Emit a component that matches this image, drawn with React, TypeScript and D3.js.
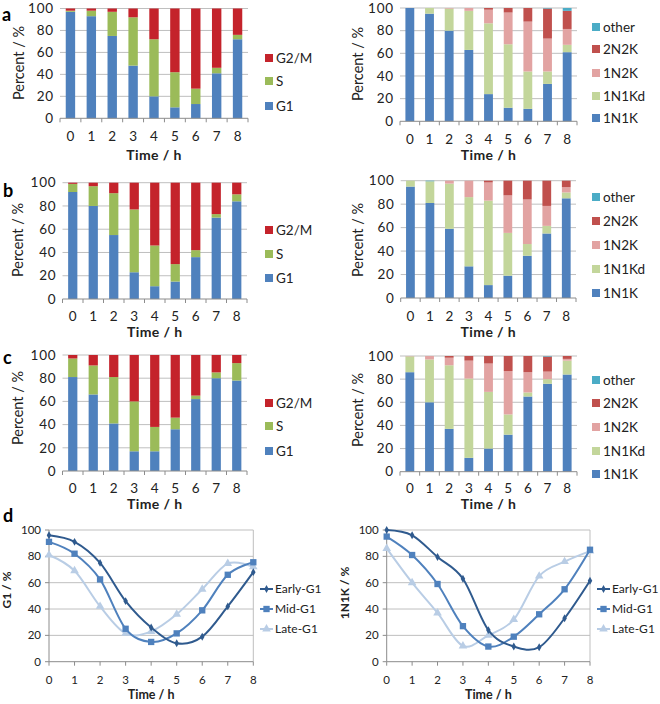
import React from 'react';
import * as d3 from 'd3';

// ---------- data ----------
const times = [0, 1, 2, 3, 4, 5, 6, 7, 8];
const timeLabels = ['0', '1', '2', '3', '4', '5', '6', '7', '8'];
const yTicks = [0, 20, 40, 60, 80, 100];

const phaseNames = ['G1', 'S', 'G2/M'];
const nucNames = ['1N1K', '1N1Kd', '1N2K', '2N2K', 'other'];
const lineNames = ['Early-G1', 'Mid-G1', 'Late-G1'];

// panel a (cell-cycle phases)
const aG1 = [97, 93, 75, 48, 20, 10, 13, 41, 72];
const aS = [1, 5, 22, 44, 52, 32, 14, 5, 4];
const aG2M = [2, 2, 3, 8, 28, 58, 73, 54, 24];
// panel a (nucleus/kinetoplast)
const a1N1K = [100, 95, 80, 63, 24, 12, 11, 33, 61];
const a1N1Kd = [0, 5, 19.5, 34.5, 62.5, 56, 33, 11, 6.5];
const a1N2K = [0, 0, 0.5, 2.5, 12, 28, 44, 29, 14];
const a2N2K = [0, 0, 0, 0, 1.5, 4, 12, 26.5, 16];
const aOther = [0, 0, 0, 0, 0, 0, 0, 0.5, 2.5];

// panel b
const bG1 = [92, 80, 55, 23, 11, 15, 36, 70, 84];
const bS = [7, 17, 36, 54, 35, 15, 6, 3, 6];
const bG2M = [1, 3, 9, 23, 54, 70, 58, 27, 10];
const b1N1K = [95, 81, 59, 27, 11, 19, 36, 55, 85];
const b1N1Kd = [5, 18.5, 38.5, 59, 72, 36.5, 10, 6.5, 5];
const b1N2K = [0, 0, 2.5, 14, 15.5, 32, 38, 17, 4.5];
const b2N2K = [0, 0, 0, 0, 1.5, 12.5, 16, 21.5, 5.5];
const bOther = [0, 0.5, 0, 0, 0, 0, 0, 0, 0];

// panel c
const cG1 = [81, 66, 41, 17, 17, 36, 62, 80, 78];
const cS = [16, 25, 40, 43, 21, 10, 3, 5, 15];
const cG2M = [3, 9, 19, 40, 62, 54, 35, 15, 7];
const c1N1K = [86, 60, 37, 12, 20, 32, 65, 76, 84];
const c1N1Kd = [13.7, 37, 55, 68.5, 49, 17.5, 3.5, 4, 12];
const c1N2K = [0.3, 3, 6.5, 15.5, 24.5, 37.5, 17.5, 6.5, 1.5];
const c2N2K = [0, 0, 1.5, 4, 6.5, 13, 14, 13, 2.5];
const cOther = [0, 0, 0, 0, 0, 0, 0, 0.5, 0];

// panel d (lines)
const dG1Early = [96, 91, 75, 46, 26, 14, 19, 42, 68];
const dG1Mid = [91, 82, 62.5, 25, 15, 21.5, 39, 66, 75.5];
const dG1Late = [81, 69, 42, 21.5, 23, 36, 55, 74.5, 72];
const dKEarly = [100, 96, 79.5, 63, 24, 11.5, 11, 33, 61.5];
const dKMid = [95, 81, 59, 27, 11.5, 19, 36, 55, 85];
const dKLate = [86, 60, 37, 12, 20, 32, 65, 76, 84];

// ---------- styles ----------
const phaseColors = ['#4F81BD', '#9BBB59', '#C4232B'];
const nucColors = ['#4F81BD', '#C3D69B', '#E2A3A2', '#C0504D', '#4BACC6'];
const lineColors = ['#2F5A8E', '#4F81BD', '#B9CDE5'];
const FONT = 'Lato, "Open Sans", sans-serif';
const GRID = '#BFBFBF';
const AXIS = '#8C8C8C';
const TEXT = '#222';

type BarProps = {
  series: number[][];
  names: string[];
  colors: string[];
  x0: number; x1: number; y0: number; y100: number;
  legX: number; legYs: number[];
  tickY: number; titleY: number;
  yTitleX: number; yTitleY: number;
};

function BarPanel(p: BarProps) {
  const x = d3.scaleBand<number>().domain(times).range([p.x0, p.x1]).paddingInner(0.55).paddingOuter(0.275);
  const y = d3.scaleLinear().domain([0, 100]).range([p.y0, p.y100]);
  const table = times.map((t, i) => {
    const o: any = { t };
    p.names.forEach((n, k) => (o[n] = p.series[k][i]));
    return o;
  });
  const stacked = d3.stack<any>().keys(p.names)(table);
  const step = x.step();
  const n = p.names.length;
  return (
    <g>
      {yTicks.filter(t => t > 0).map(t => (
        <line key={t} x1={p.x0} x2={p.x1} y1={y(t)} y2={y(t)} stroke={GRID} strokeWidth={1} />
      ))}
      {stacked.map((layer, k) => (
        <g key={k} fill={p.colors[k]}>
          {layer.map((d, i) => (
            <rect key={i} x={x(times[i])} width={x.bandwidth()} y={y(d[1])} height={Math.max(0, y(d[0]) - y(d[1]))} />
          ))}
        </g>
      ))}
      <line x1={p.x0} x2={p.x1} y1={y(0)} y2={y(0)} stroke={AXIS} strokeWidth={1} />
      {d3.range(times.length + 1).map(i => (
        <line key={i} x1={p.x0 + i * step} x2={p.x0 + i * step} y1={y(0)} y2={y(0) + 4} stroke={AXIS} strokeWidth={1} />
      ))}
      {yTicks.map(t => (
        <text key={t} x={p.x0 - 6} y={y(t)} dy="0.35em" textAnchor="end" fontSize={13.5} letterSpacing={0.8} fill={TEXT}>{t}</text>
      ))}
      {times.map((t, i) => (
        <text key={t} x={(x(t) as number) + x.bandwidth() / 2} y={p.tickY} dy="0.35em" textAnchor="middle" fontSize={13.5} fill={TEXT}>{timeLabels[i]}</text>
      ))}
      <text x={(p.x0 + p.x1) / 2} y={p.titleY} dy="0.35em" textAnchor="middle" fontSize={14} fontWeight="bold" letterSpacing={0.4} fill={TEXT}>Time / h</text>
      <text transform={`translate(${p.yTitleX},${p.yTitleY}) rotate(-90)`} dy="0.35em" textAnchor="middle" fontSize={14.5} fill={TEXT}>Percent / %</text>
      {p.names.map((nm, k) => {
        const ly = p.legYs[n - 1 - k];
        return (
          <g key={nm}>
            <rect x={p.legX} y={ly - 4} width={8} height={8} fill={p.colors[k]} />
            <text x={p.legX + 11} y={ly} dy="0.35em" fontSize={13.5} fill={TEXT}>{nm}</text>
          </g>
        );
      })}
    </g>
  );
}

type LineProps = {
  series: number[][];
  x0: number; x1: number; y0: number; y100: number;
  legX: number; legYs: number[];
  tickY: number; titleY: number;
  yTitle: string; yTitleX: number; yTitleY: number;
};

const symbols = [d3.symbolDiamond, d3.symbolSquare, d3.symbolTriangle];
const symSizes = [18, 40, 32];

function LinePanel(p: LineProps) {
  const x = d3.scaleLinear().domain([0, 8]).range([p.x0, p.x1]);
  const y = d3.scaleLinear().domain([0, 100]).range([p.y0, p.y100]);
  const line = d3.line<number>().x((_, i) => x(times[i])).y(d => y(d)).curve(d3.curveCatmullRom.alpha(0));
  const order = [2, 1, 0];
  return (
    <g>
      {yTicks.filter(t => t > 0).map(t => (
        <line key={t} x1={p.x0} x2={p.x1} y1={y(t)} y2={y(t)} stroke={GRID} strokeWidth={1} />
      ))}
      <line x1={p.x1} x2={p.x1} y1={y(100)} y2={y(0)} stroke={GRID} strokeWidth={1} />
      <line x1={p.x0} x2={p.x0} y1={y(100)} y2={y(0)} stroke={AXIS} strokeWidth={1} />
      <line x1={p.x0} x2={p.x1} y1={y(0)} y2={y(0)} stroke={AXIS} strokeWidth={1} />
      {times.map(t => (
        <line key={t} x1={x(t)} x2={x(t)} y1={y(0)} y2={y(0) + 4} stroke={AXIS} strokeWidth={1} />
      ))}
      {yTicks.map(t => (
        <line key={t} x1={p.x0 - 4} x2={p.x0} y1={y(t)} y2={y(t)} stroke={AXIS} strokeWidth={1} />
      ))}
      {order.map(k => (
        <g key={k}>
          <path d={line(p.series[k]) || ''} fill="none" stroke={lineColors[k]} strokeWidth={2} />
          {p.series[k].map((v, i) => (
            <path key={i} transform={`translate(${x(times[i])},${y(v)})`} d={d3.symbol(symbols[k], symSizes[k])() || ''} fill={lineColors[k]} />
          ))}
        </g>
      ))}
      {yTicks.map(t => (
        <text key={t} x={p.x0 - 8} y={y(t)} dy="0.35em" textAnchor="end" fontSize={11.5} fill={TEXT}>{t}</text>
      ))}
      {times.map((t, i) => (
        <text key={t} x={x(t)} y={p.tickY} dy="0.35em" textAnchor="middle" fontSize={11.5} fill={TEXT}>{timeLabels[i]}</text>
      ))}
      <text x={(p.x0 + p.x1) / 2} y={p.titleY} dy="0.35em" textAnchor="middle" fontSize={12.5} fontWeight="bold" fill={TEXT}>Time / h</text>
      <text transform={`translate(${p.yTitleX},${p.yTitleY}) rotate(-90)`} dy="0.35em" textAnchor="middle" fontSize={12} fontWeight="bold" fill={TEXT}>{p.yTitle}</text>
      {lineNames.map((nm, k) => (
        <g key={nm}>
          <line x1={p.legX} x2={p.legX + 13} y1={p.legYs[k]} y2={p.legYs[k]} stroke={lineColors[k]} strokeWidth={2} />
          <path transform={`translate(${p.legX + 6.5},${p.legYs[k]})`} d={d3.symbol(symbols[k], symSizes[k])() || ''} fill={lineColors[k]} />
          <text x={p.legX + 15} y={p.legYs[k]} dy="0.35em" fontSize={12} fill={TEXT}>{nm}</text>
        </g>
      ))}
    </g>
  );
}

export default function App() {
  return (
    <svg width={660} height={704} viewBox="0 0 660 704" style={{ position: 'absolute', left: 0, top: 0, background: '#fff' }} fontFamily={FONT}>
      <rect x={0} y={0} width={660} height={704} fill="#fff" />
      <BarPanel series={[aG1, aS, aG2M]} names={phaseNames} colors={phaseColors}
        x0={60} x1={248} y0={118.3} y100={8.5} legX={265} legYs={[58, 81, 106]} tickY={136} titleY={155} yTitleX={19} yTitleY={63} />
      <BarPanel series={[a1N1K, a1N1Kd, a1N2K, a2N2K, aOther]} names={nucNames} colors={nucColors}
        x0={400} x1={577} y0={121.3} y100={8} legX={592} legYs={[27, 49, 73, 96, 118]} tickY={139.5} titleY={155.5} yTitleX={358} yTitleY={64} />
      <BarPanel series={[bG1, bS, bG2M]} names={phaseNames} colors={phaseColors}
        x0={62.5} x1={247} y0={299} y100={182.7} legX={265} legYs={[230, 254, 278]} tickY={316} titleY={332} yTitleX={18} yTitleY={240} />
      <BarPanel series={[b1N1K, b1N1Kd, b1N2K, b2N2K, bOther]} names={nucNames} colors={nucColors}
        x0={400.7} x1={576} y0={298} y100={180.7} legX={592} legYs={[197, 221, 245, 269, 293]} tickY={316} titleY={332} yTitleX={358} yTitleY={240} />
      <BarPanel series={[cG1, cS, cG2M]} names={phaseNames} colors={phaseColors}
        x0={62.5} x1={247} y0={471} y100={355} legX={265} legYs={[403, 426, 451]} tickY={488} titleY={504} yTitleX={18} yTitleY={408} />
      <BarPanel series={[c1N1K, c1N1Kd, c1N2K, c2N2K, cOther]} names={nucNames} colors={nucColors}
        x0={400} x1={577} y0={471.7} y100={356} legX={592} legYs={[380, 403, 427, 451, 474]} tickY={488} titleY={504} yTitleX={358} yTitleY={410} />
      <LinePanel series={[dG1Early, dG1Mid, dG1Late]} x0={49} x1={253.3} y0={661.7} y100={530}
        legX={260} legYs={[589, 609, 629]} tickY={680} titleY={695} yTitle="G1 / %" yTitleX={7} yTitleY={590} />
      <LinePanel series={[dKEarly, dKMid, dKLate]} x0={386.7} x1={590} y0={661.7} y100={530}
        legX={597} legYs={[589, 609, 629]} tickY={680} titleY={695} yTitle="1N1K / %" yTitleX={345} yTitleY={593} />
      <text x={2} y={21} fontSize={18} fontWeight="bold" fill="#000">a</text>
      <text x={3} y={197} fontSize={18} fontWeight="bold" fill="#000">b</text>
      <text x={3} y={364} fontSize={18} fontWeight="bold" fill="#000">c</text>
      <text x={3} y={522} fontSize={18} fontWeight="bold" fill="#000">d</text>
    </svg>
  );
}
